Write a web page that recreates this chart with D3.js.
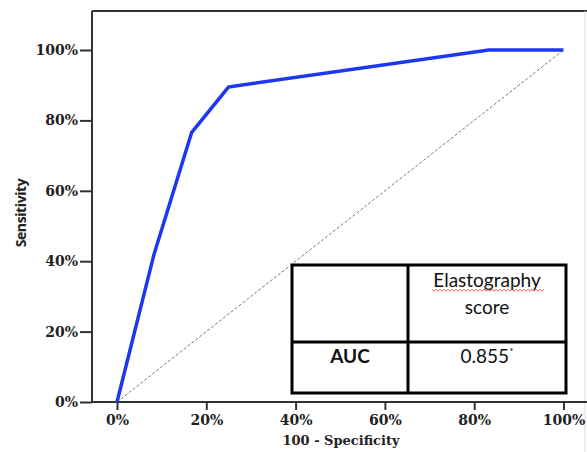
<!DOCTYPE html>
<html>
<meta charset="utf-8">
<head>
	<title>roc curve</title>
	<script src="https://cdn.jsdelivr.net/npm/d3@7/dist/d3.min.js" charset="utf-8"></script>
	<style>
		body { margin: 0; background: #fff; }
		.tick text { font-family: "DejaVu Serif", serif; font-weight: bold; font-size: 14px; fill: #222; }
	</style>
</head>
<body>
	<script type="text/javascript">
		// ROC points (percent)
		var falsePos = [0, 8.3, 16.7, 25, 83.3, 100],
			truePos = [0, 42, 76.5, 89.5, 100, 100];
		var ticks = [0, 20, 40, 60, 80, 100];
		var xLabel = '100 - Specificity',
			yLabel = 'Sensitivity';
		var headRow = ['', 'Elastography', 'score'],
			aucRow = ['AUC', '0.855', '*'];

		var width = 587, height = 452;
		var frame = {left: 92, top: 11, bottom: 402, right: 587};

		var svg = d3.select('body').append('svg')
			.attr('width', width)
			.attr('height', height);

		var x = d3.scaleLinear().domain([0, 100]).range([117, 563.5]);
		var y = d3.scaleLinear().domain([0, 100]).range([402, 50]);

		// frame lines
		svg.append('line').attr('x1', frame.left).attr('x2', frame.right)
			.attr('y1', frame.top).attr('y2', frame.top)
			.attr('stroke', '#333').attr('stroke-width', 2);
		svg.append('line').attr('x1', 585).attr('x2', 585)
			.attr('y1', frame.top).attr('y2', height)
			.attr('stroke', '#ddd').attr('stroke-width', 1);

		var yAxis = svg.append('g')
			.attr('transform', 'translate(' + frame.left + ',0)')
			.call(d3.axisLeft(y).tickValues(ticks).tickSize(12).tickPadding(2)
				.tickFormat(function(d) { return d + '%'; }));
		var xAxis = svg.append('g')
			.attr('transform', 'translate(0,' + frame.bottom + ')')
			.call(d3.axisBottom(x).tickValues(ticks).tickSize(8).tickPadding(5)
				.tickFormat(function(d) { return d + '%'; }));
		svg.selectAll('.domain').remove();
		svg.selectAll('.tick line').attr('stroke', '#333').attr('stroke-width', 2);

		svg.append('line').attr('x1', frame.left).attr('x2', frame.left)
			.attr('y1', frame.top).attr('y2', frame.bottom + 1)
			.attr('stroke', '#333').attr('stroke-width', 2);
		svg.append('line').attr('x1', frame.left).attr('x2', frame.right)
			.attr('y1', frame.bottom).attr('y2', frame.bottom)
			.attr('stroke', '#333').attr('stroke-width', 2);

		// reference diagonal
		svg.append('line')
			.attr('x1', x(0)).attr('y1', y(0))
			.attr('x2', x(100)).attr('y2', y(100))
			.attr('stroke', '#777').attr('stroke-width', 1)
			.attr('stroke-dasharray', '3,2');

		var pts = falsePos.map(function(d, i) { return [d, truePos[i]]; });
		svg.append('path')
			.datum(pts)
			.attr('fill', 'none')
			.attr('stroke', '#1d38f2')
			.attr('stroke-width', 3.5)
			.attr('stroke-linejoin', 'round')
			.attr('d', d3.line().x(function(d) { return x(d[0]); }).y(function(d) { return y(d[1]); }));

		// axis titles
		svg.append('text')
			.attr('x', 341).attr('y', 445)
			.attr('text-anchor', 'middle')
			.style('font-family', '"DejaVu Serif", serif')
			.style('font-weight', 'bold')
			.style('font-size', '13px')
			.attr('fill', '#222')
			.text(xLabel);
		svg.append('text')
			.attr('transform', 'translate(26,213) rotate(-90)')
			.attr('text-anchor', 'middle')
			.style('font-family', '"Open Sans", sans-serif')
			.style('font-weight', 'bold')
			.style('font-size', '14px')
			.style('letter-spacing', '-0.4px')
			.attr('fill', '#222')
			.text(yLabel);

		// AUC table
		var tb = {x0: 292, x1: 408, x2: 566, y0: 265, y1: 342, y2: 393};
		var tg = svg.append('g');
		tg.append('rect').attr('x', tb.x0).attr('y', tb.y0)
			.attr('width', tb.x2 - tb.x0).attr('height', tb.y2 - tb.y0)
			.attr('fill', '#fff').attr('stroke', '#000').attr('stroke-width', 3);
		tg.append('line').attr('x1', tb.x1).attr('x2', tb.x1).attr('y1', tb.y0).attr('y2', tb.y2)
			.attr('stroke', '#000').attr('stroke-width', 3);
		tg.append('line').attr('x1', tb.x0).attr('x2', tb.x2).attr('y1', tb.y1).attr('y2', tb.y1)
			.attr('stroke', '#000').attr('stroke-width', 3);

		var cellFont = function(sel) {
			return sel.attr('text-anchor', 'middle')
				.style('font-family', 'Lato, "Open Sans", sans-serif')
				.style('font-size', '19px')
				.attr('fill', '#111');
		};
		var cx = (tb.x1 + tb.x2) / 2;
		tg.append('text').attr('x', cx).attr('y', 287).call(cellFont).text(headRow[1]);
		tg.append('text').attr('x', cx).attr('y', 314).call(cellFont).text(headRow[2]);
		tg.append('text').attr('x', (tb.x0 + tb.x1) / 2).attr('y', 363).call(cellFont)
			.style('font-weight', 'bold').text(aucRow[0]);
		var v = tg.append('text').attr('x', cx).attr('y', 363).call(cellFont);
		v.append('tspan').text(aucRow[1]);
		v.append('tspan').attr('dy', -8).style('font-size', '10px').text(aucRow[2]);

		// spell-check squiggle under the header word
		var sq = [];
		for (var i = 0; i <= 56; i++) sq.push([432 + i * 2, 290 + (i % 2 ? 1.2 : -0.6)]);
		tg.append('path').attr('d', d3.line()(sq))
			.attr('fill', 'none').attr('stroke', '#d33').attr('stroke-width', 0.8);
	</script>
</body>
</html>
